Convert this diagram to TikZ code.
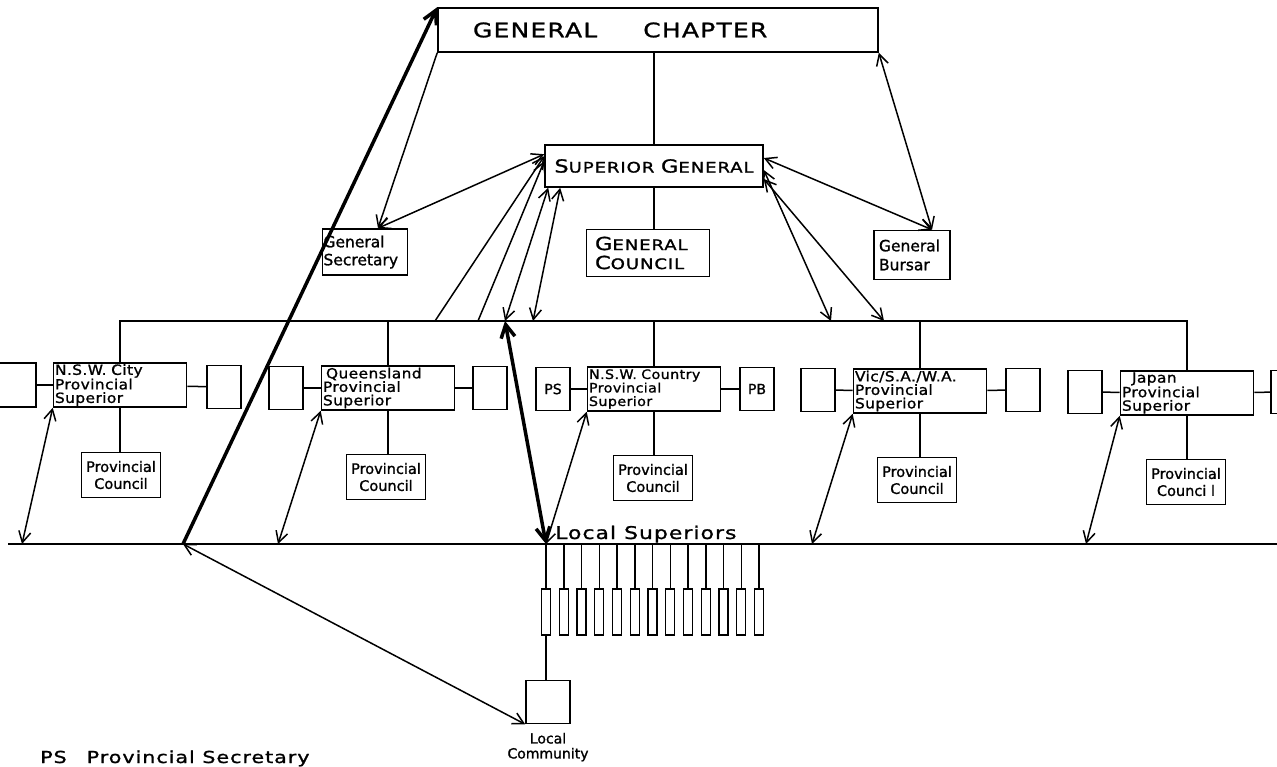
\documentclass[tikz,border=0pt]{standalone}
\usepackage{fontspec}
\setmainfont{DejaVu Sans}[FakeBold=1.2]
\newfontfamily\widefont{DejaVu Sans}[FakeStretch=1.25,LetterSpace=6,FakeBold=1.2]
\newfontfamily\provfont{DejaVu Sans}[FakeStretch=1.1,LetterSpace=3,FakeBold=1.2]
\usetikzlibrary{arrows.meta,positioning}
\newcommand{\initcap}[1]{{\fontsize{18}{18}\selectfont #1}}

\begin{document}
\begin{tikzpicture}[x=1pt,y=-1pt,
    box/.style = {draw, rectangle, line width=1.6pt, inner sep=0pt, align=left},
    prov/.style = {box, minimum width=133pt, minimum height=44pt, text width=130pt, font=\provfont\fontsize{14}{13.5}\selectfont},
    side/.style = {box, minimum width=34pt, minimum height=43pt, align=center, font=\fontsize{14}{14}\selectfont},
    council/.style = {box, minimum width=79pt, minimum height=45pt, align=center, font=\fontsize{14.5}{17}\selectfont},
    lsup/.style = {box, line width=1.3pt, minimum width=9pt, minimum height=46pt},
    link/.style = {line width=1.5pt},
    both/.style = {link, <->},
    heavy/.style = {line width=3.5pt, >={Straight Barb[length=13pt,width=14pt]}},
    >={Straight Barb[length=11pt,width=12pt]}]
    \useasboundingbox (0,0) rectangle (1277,767);

    \node[box, minimum width=440pt, minimum height=44pt, text width=430pt, font=\widefont\fontsize{20}{20}\selectfont] (gc) at (658,30) {\hspace*{30pt}GENERAL\hspace{46pt}CHAPTER};
    \node[box, minimum width=218pt, minimum height=42pt, align=center, font=\widefont\fontsize{14.5}{16}\selectfont] (sg) at (654,166) {\initcap{S}UPERIOR \initcap{G}ENERAL};
    \node[box, minimum width=85pt, minimum height=46pt, text width=83pt, font=\fontsize{15.5}{18}\selectfont] (gs) at (365,252) {General\\Secretary};
    \node[box, minimum width=123pt, minimum height=47pt, text width=106pt, font=\widefont\fontsize{14.5}{19}\selectfont] (gcl) at (648,253) {\initcap{G}ENERAL\\\initcap{C}OUNCIL};
    \node[box, minimum width=76pt, minimum height=49pt, text width=66pt, font=\fontsize{15.5}{19}\selectfont] (gb) at (912,255) {General\\Bursar};

    \node[prov] (p1) at (120,385) {N.S.W. City\\Provincial\\Superior};
    \node[prov] (p2) at (388,388) {\hspace*{3pt}Queensland\\Provincial\\Superior};
    \node[prov, font=\provfont\fontsize{13}{13.5}\selectfont] (p3) at (654,389) {N.S.W. Country\\Provincial\\Superior};
    \node[prov] (p4) at (920,391) {Vic/S.A./W.A.\\Provincial\\Superior};
    \node[prov] (p5) at (1187,393) {\hspace*{10pt}Japan\\Provincial\\Superior};

    \node[side, minimum width=56pt, minimum height=44pt] (l1) at (8,385) {};
    \node[side] (r1) at (224,387) {};
    \node[side] (l2) at (286,388) {};
    \node[side] (r2) at (490,388) {};
    \node[side] (l3) at (553,389) {PS};
    \node[side] (r3) at (757,389) {PB};
    \node[side] (l4) at (818,390) {};
    \node[side] (r4) at (1023,390) {};
    \node[side] (l5) at (1085,392) {};
    \node[side, minimum width=38pt] (r5) at (1290,392) {};

    \node[council] (c1) at (121,475) {Provincial\\Council};
    \node[council] (c2) at (386,477) {Provincial\\Council};
    \node[council] (c3) at (653,478) {Provincial\\Council};
    \node[council] (c4) at (917,480) {Provincial\\Council};
    \node[council] (c5) at (1186,482) {Provincial\\Counci l};

    \coordinate (bar) at (654,321);
    \coordinate (s1) at (435,321);
    \coordinate (s2) at (478,321);
    \coordinate (d1) at (505,321);
    \coordinate (d2) at (533,321);
    \coordinate (e1) at (831,321);
    \coordinate (e2) at (884,321);
    \coordinate (bl) at (8,544);
    \coordinate (br) at (1277,544);
    \coordinate (hub) at (183,544);
    \coordinate (ls) at (546,544);
    \coordinate (b1) at (22,544);
    \coordinate (b2) at (278,544);
    \coordinate (b4) at (812,544);
    \coordinate (b5) at (1086,544);
    \coordinate (gst) at ([xshift=13pt]gs.north);
    \coordinate (gbt) at ([xshift=20pt]gb.north);

    \node[anchor=base west, inner sep=0pt, font=\widefont\fontsize{17.5}{18}\selectfont] (lsl) at (555,539) {Local Superiors};
    \node[box, minimum width=44pt, minimum height=43pt] (lc) at (548,702) {};
    \node[below=5pt of lc, align=center, font=\fontsize{14}{15}\selectfont] (lcl) {Local\\Community};
    \node[anchor=base west, inner sep=0pt, font=\widefont\fontsize{16.5}{17}\selectfont] (key) at (40,763) {PS\hspace{20pt}Provincial Secretary};

    \draw[link] (sg.north) -- (sg.north |- gc.south);
    \draw[link] (sg.south) -- (sg.south |- gcl.north);
    \draw[link] (p1.north) |- (bar) -| (p5.north);
    \draw[link] (p2.north) -- (p2.north |- bar);
    \draw[link] (p3.north) -- (p3.north |- bar);
    \draw[link] (p4.north) -- (p4.north |- bar);
    \draw[link] (l1) -- (p1);
    \draw[link] (p1) -- (r1);
    \draw[link] (l2) -- (p2);
    \draw[link] (p2) -- (r2);
    \draw[link] (l3) -- (p3);
    \draw[link] (p3) -- (r3);
    \draw[link] (l4) -- (p4);
    \draw[link] (p4) -- (r4);
    \draw[link] (l5) -- (p5);
    \draw[link] (p5) -- (r5);
    \draw[link] (p1.south) -- (p1.south |- c1.north);
    \draw[link] (p2.south) -- (p2.south |- c2.north);
    \draw[link] (p3.south) -- (p3.south |- c3.north);
    \draw[link] (p4.south) -- (p4.south |- c4.north);
    \draw[link] (p5.south) -- (p5.south |- c5.north);
    \draw[link] (bl) -- (br);

    \foreach \i in {1,...,13} {
        \node[lsup] (ls\i) at ({546+17.75*(\i-1)},612) {};
        \draw[link] (ls\i.north) -- (ls\i.north |- ls);
    }
    \draw[link] (ls1.south) -- (ls1.south |- lc.north);

    \draw[link, ->] (gc.south west) -- (gst);
    \draw[both] ([yshift=-10pt]sg.north west) -- (gst);
    \draw[link, ->] (s1) -- ([yshift=-12pt]sg.north west);
    \draw[link, ->] (s2) -- ([yshift=-17pt]sg.north west);
    \draw[both] (d1) -- ([xshift=4pt]sg.south west);
    \draw[both] (d2) -- ([xshift=16pt]sg.south west);
    \draw[both] (gc.south east) -- (gbt);
    \draw[both] ([yshift=8pt]sg.east) -- (gbt);
    \draw[both] (e1) -- ([yshift=-4pt]sg.east);
    \draw[both] (e2) -- ([yshift=-13pt]sg.east);

    \draw[heavy, ->] (hub) -- (gc.north west);
    \draw[heavy, <->] (d1) -- (ls);
    \draw[both] (hub) -- (lc.south west);
    \draw[both] (ls) -- (p3.south west);
    \draw[both] (b1) -- (p1.south west);
    \draw[both] (b2) -- (p2.south west);
    \draw[both] (b4) -- (p4.south west);
    \draw[both] (b5) -- (p5.south west);
\end{tikzpicture}
\end{document}
